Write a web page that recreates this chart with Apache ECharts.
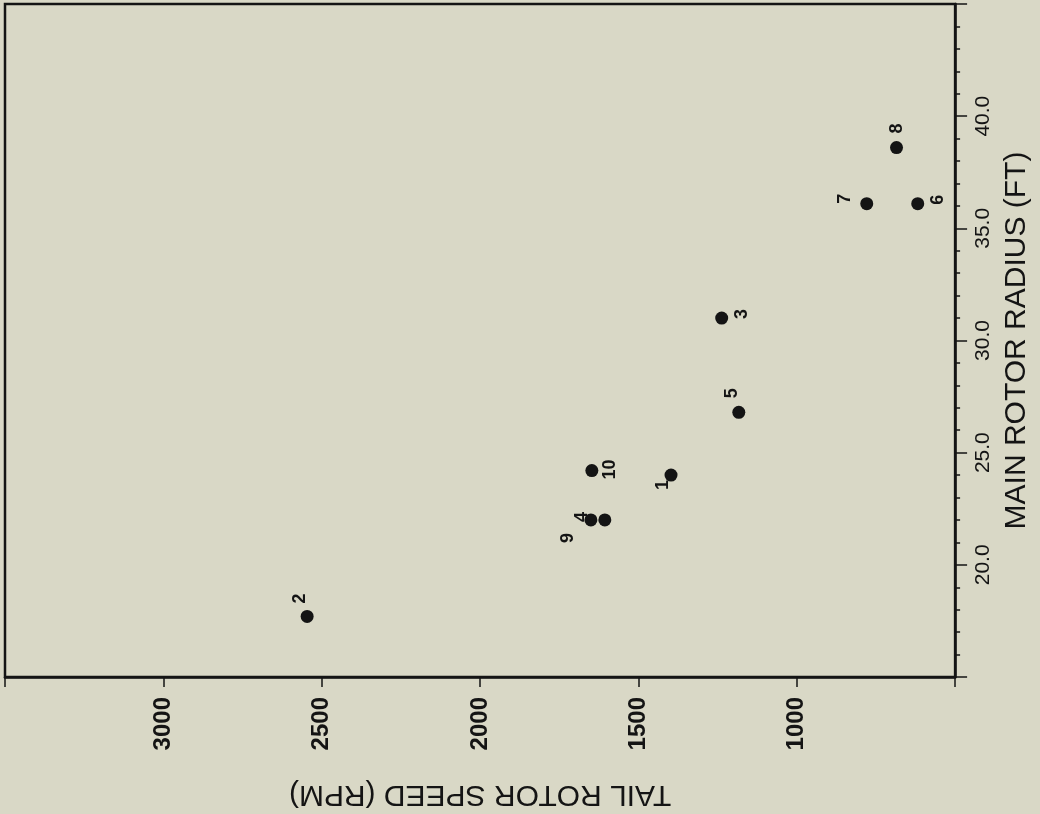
<!DOCTYPE html>
<html>
<head>
<meta charset="utf-8">
<script src="https://cdn.jsdelivr.net/npm/echarts@6/dist/echarts.min.js"></script>
<style>
html,body{margin:0;padding:0;background:#d9d8c6;}
#c{width:1040px;height:814px;}
</style>
</head>
<body>
<div id="c"></div>
<script>
// Data
const pointNames = ['1','2','3','4','5','6','7','8','9','10'];
const tailRotorSpeed = [1397, 2546, 1237, 1606, 1183, 618, 779, 685, 1650, 1647];   // RPM
const mainRotorRadius = [24.0, 17.7, 31.0, 22.0, 26.8, 36.1, 36.1, 38.6, 22.0, 24.2]; // FT
const xTickValues = [1000, 1500, 2000, 2500, 3000];
const yTickValues = [20, 25, 30, 35, 40];

// label placement on screen (pixel dx, dy from each marker), style only
const labelScreenOffsets = {
  '1': [-8, 10], '2': [-7, -18], '3': [20, -4], '4': [-23, -3], '5': [-7, -19],
  '6': [20, -4], '7': [-22, -5], '8': [1, -19], '9': [-23, 18], '10': [18, -1]
};
// labels are rotated 90deg, so offsets are given in the label's rotated frame
const toLocal = o => [-o[1], o[0]];

const ink = '#141414';
const font = 'Liberation Sans, Arial, Helvetica, sans-serif';

const data = pointNames.map((n, i) => ({
  name: n,
  value: [tailRotorSpeed[i], mainRotorRadius[i]],
  label: { offset: toLocal(labelScreenOffsets[n]) }
}));

const chart = echarts.init(document.getElementById('c'));
chart.setOption({
  backgroundColor: '#d9d8c6',
  animation: false,
  grid: {
    left: 5, right: 84, top: 4, bottom: 134,
    show: true, borderColor: ink, borderWidth: 2.5, backgroundColor: 'transparent'
  },
  xAxis: {
    type: 'value', inverse: true, min: 500, max: 3500, interval: 500,
    name: 'TAIL ROTOR SPEED (RPM)', nameLocation: 'middle', nameRotate: 180, nameGap: 102,
    nameTextStyle: { fontFamily: font, fontSize: 30, color: ink },
    axisLine: { show: true, lineStyle: { color: ink, width: 2.5 } },
    axisTick: { show: true, length: 10, lineStyle: { color: ink, width: 1.5 } },
    splitLine: { show: false },
    axisLabel: {
      rotate: 90, margin: 20, fontFamily: font, fontSize: 24, fontWeight: 'bold', color: ink,
      formatter: v => xTickValues.includes(v) ? String(v) : ''
    }
  },
  yAxis: {
    type: 'value', position: 'right', min: 15, max: 45, interval: 5,
    name: 'MAIN ROTOR RADIUS (FT)', nameLocation: 'middle', nameRotate: 90, nameGap: 44,
    nameTextStyle: { fontFamily: font, fontSize: 30, color: ink },
    axisLine: { show: true, lineStyle: { color: ink, width: 2.5 } },
    axisTick: { show: true, length: 12, lineStyle: { color: ink, width: 1.5 } },
    minorTick: { show: true, splitNumber: 5, length: 5, lineStyle: { color: ink, width: 1.5 } },
    splitLine: { show: false },
    axisLabel: {
      rotate: 90, margin: 18, fontFamily: font, fontSize: 21, color: ink,
      formatter: v => yTickValues.includes(v) ? v.toFixed(1) : ''
    }
  },
  series: [{
    type: 'scatter',
    symbol: 'circle',
    symbolSize: 13,
    itemStyle: { color: ink, opacity: 1 },
    label: {
      show: true, position: 'inside', rotate: 90,
      formatter: p => p.name,
      fontFamily: font, fontSize: 18, fontWeight: 'bold', color: ink
    },
    data: data
  }]
});
</script>
</body>
</html>
